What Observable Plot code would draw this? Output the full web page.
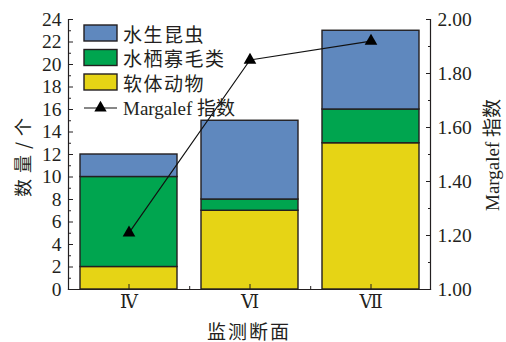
<!DOCTYPE html>
<html>
<head>
<meta charset="utf-8">
<script src="https://cdn.jsdelivr.net/npm/d3@7"></script>
<script src="https://cdn.jsdelivr.net/npm/@observablehq/plot@0.6"></script>
<style>
  body { margin: 0; background: #fff; }
  #chart { position: relative; width: 506px; height: 342px; }
</style>
</head>
<body>
<div id="chart"></div>
<script>
// Monitoring sections and benthic fauna counts per group
const sections = ["Ⅳ", "Ⅵ", "Ⅶ"];
const groups = ["软体动物", "水栖寡毛类", "水生昆虫"];
const mollusca = [2, 7, 13];     // 软体动物
const oligochaeta = [8, 1, 3];   // 水栖寡毛类
const insecta = [2, 7, 7];       // 水生昆虫
// Margalef richness index per section
const margalef = [1.21, 1.85, 1.92];

// Axis ticks
const countTicks = [0, 2, 4, 6, 8, 10, 12, 14, 16, 18, 20, 22, 24];
const countMinor = [1, 3, 5, 7, 9, 11, 13, 15, 17, 19, 21, 23];
const indexTicks = [1.0, 1.2, 1.4, 1.6, 1.8, 2.0];
const indexMinor = [1.1, 1.3, 1.5, 1.7, 1.9];

const colors = { "软体动物": "#e6d415", "水栖寡毛类": "#00a54f", "水生昆虫": "#5f88be" };

// The index shares the count scale: [1, 2] on the right maps onto [0, 24] on the left
const countMax = 24, idxLo = 1, idxHi = 2;
const toCount = (m) => (m - idxLo) / (idxHi - idxLo) * countMax;
const toIndex = (c) => idxLo + c / countMax * (idxHi - idxLo);

const rows = sections.flatMap((s, i) => [
  { section: s, group: groups[0], count: mollusca[i] },
  { section: s, group: groups[1], count: oligochaeta[i] },
  { section: s, group: groups[2], count: insecta[i] }
]);
const indexRows = sections.map((s, i) => ({ section: s, m: margalef[i] }));

const serif = "'Liberation Serif', 'Times New Roman', 'DejaVu Serif', 'Noto Sans CJK SC', serif";
const roman = "'DejaVu Serif', 'Liberation Serif', serif";
const ink = "#231f20";

const plot = Plot.plot({
  width: 506,
  height: 342,
  marginLeft: 68,
  marginRight: 76,
  marginTop: 19,
  marginBottom: 53,
  style: { fontFamily: serif, fontSize: "19.5px", color: ink, background: "#fff", overflow: "visible" },
  x: { domain: sections, paddingInner: 0.2, paddingOuter: 0.09, label: null },
  y: { domain: [0, countMax], label: null },
  color: { domain: groups, range: groups.map((g) => colors[g]) },
  marks: [
    Plot.barY(rows, { x: "section", y: "count", fill: "group", stroke: ink, strokeWidth: 1.4 }),
    Plot.line(indexRows, { x: "section", y: (d) => toCount(d.m), stroke: "#111", strokeWidth: 1.2 }),
    Plot.dot(indexRows, { x: "section", y: (d) => toCount(d.m), symbol: "triangle", r: 4.7, fill: "#000", stroke: null }),
    // axis lines: left, right and bottom, no top
    Plot.frame({ anchor: "left", stroke: ink, strokeWidth: 1.2 }),
    Plot.frame({ anchor: "right", stroke: ink, strokeWidth: 1.2 }),
    Plot.frame({ anchor: "bottom", stroke: ink, strokeWidth: 1.2 }),
    // left count axis, ticks pointing inward
    Plot.axisY({ ticks: countTicks, tickSize: -5, tickPadding: 12, label: null, stroke: ink, fill: ink }),
    Plot.axisY({ ticks: countMinor, tickSize: -3, tickFormat: () => "", label: null, stroke: ink }),
    // right Margalef axis
    Plot.axisY({
      anchor: "right", ticks: indexTicks.map(toCount), tickSize: -5, tickPadding: 12,
      tickFormat: (d) => toIndex(d).toFixed(2), label: null, stroke: ink, fill: ink
    }),
    Plot.axisY({ anchor: "right", ticks: indexMinor.map(toCount), tickSize: -3, tickFormat: () => "", label: null, stroke: ink }),
    // section axis
    Plot.axisX({ tickSize: -5, tickPadding: 11, label: null, stroke: ink, fill: ink, fontFamily: roman, fontSize: 18 }),
    Plot.axisX({ ticks: sections.slice(0, -1), dx: 60.7, tickSize: -3, tickFormat: () => "", label: null, stroke: ink })
  ]
});

document.getElementById("chart").appendChild(plot);

// Titles and legend drawn on top of the plot's SVG
const svg = d3.select(plot);
const cjk = "'Noto Sans CJK SC', 'Liberation Serif', serif";

svg.append("text")
  .attr("transform", "translate(22,157) rotate(-90)")
  .attr("text-anchor", "middle").attr("dominant-baseline", "central")
  .style("font-family", cjk).style("font-size", "18px").style("letter-spacing", "1px").attr("fill", ink)
  .text("数 量 / 个");

svg.append("text")
  .attr("transform", "translate(492,155) rotate(-90)")
  .attr("text-anchor", "middle").attr("dominant-baseline", "central")
  .style("font-family", serif).style("font-size", "19px").attr("fill", ink)
  .text("Margalef 指数");

svg.append("text")
  .attr("x", 249).attr("y", 330)
  .attr("text-anchor", "middle").attr("dominant-baseline", "central")
  .style("font-family", cjk).style("font-size", "19px").style("letter-spacing", "2px").attr("fill", ink)
  .text("监测断面");

const legendItems = ["水生昆虫", "水栖寡毛类", "软体动物"];
const lg = svg.append("g").attr("transform", "translate(84,25)");
legendItems.forEach((g, i) => {
  const row = lg.append("g").attr("transform", `translate(0,${i * 24.5})`);
  row.append("rect").attr("width", 33).attr("height", 16)
    .attr("fill", colors[g]).attr("stroke", ink).attr("stroke-width", 1.4);
  row.append("text").attr("x", 39).attr("y", 8)
    .attr("text-anchor", "start").attr("dominant-baseline", "central")
    .style("font-family", cjk).style("font-size", "19px").style("letter-spacing", "1.5px").attr("fill", ink).text(g);
});
const lineRow = lg.append("g").attr("transform", "translate(0,83)");
lineRow.append("line").attr("x1", 0).attr("x2", 33).attr("y1", 0).attr("y2", 0)
  .attr("stroke", "#111").attr("stroke-width", 1.2);
lineRow.append("path").attr("transform", "translate(16.5,0)")
  .attr("d", d3.symbol(d3.symbolTriangle, 66)()).attr("fill", "#000");
lineRow.append("text").attr("x", 39).attr("y", 0)
  .attr("text-anchor", "start").attr("dominant-baseline", "central")
  .style("font-family", serif).style("font-size", "19px").attr("fill", ink).text("Margalef 指数");
</script>
</body>
</html>
